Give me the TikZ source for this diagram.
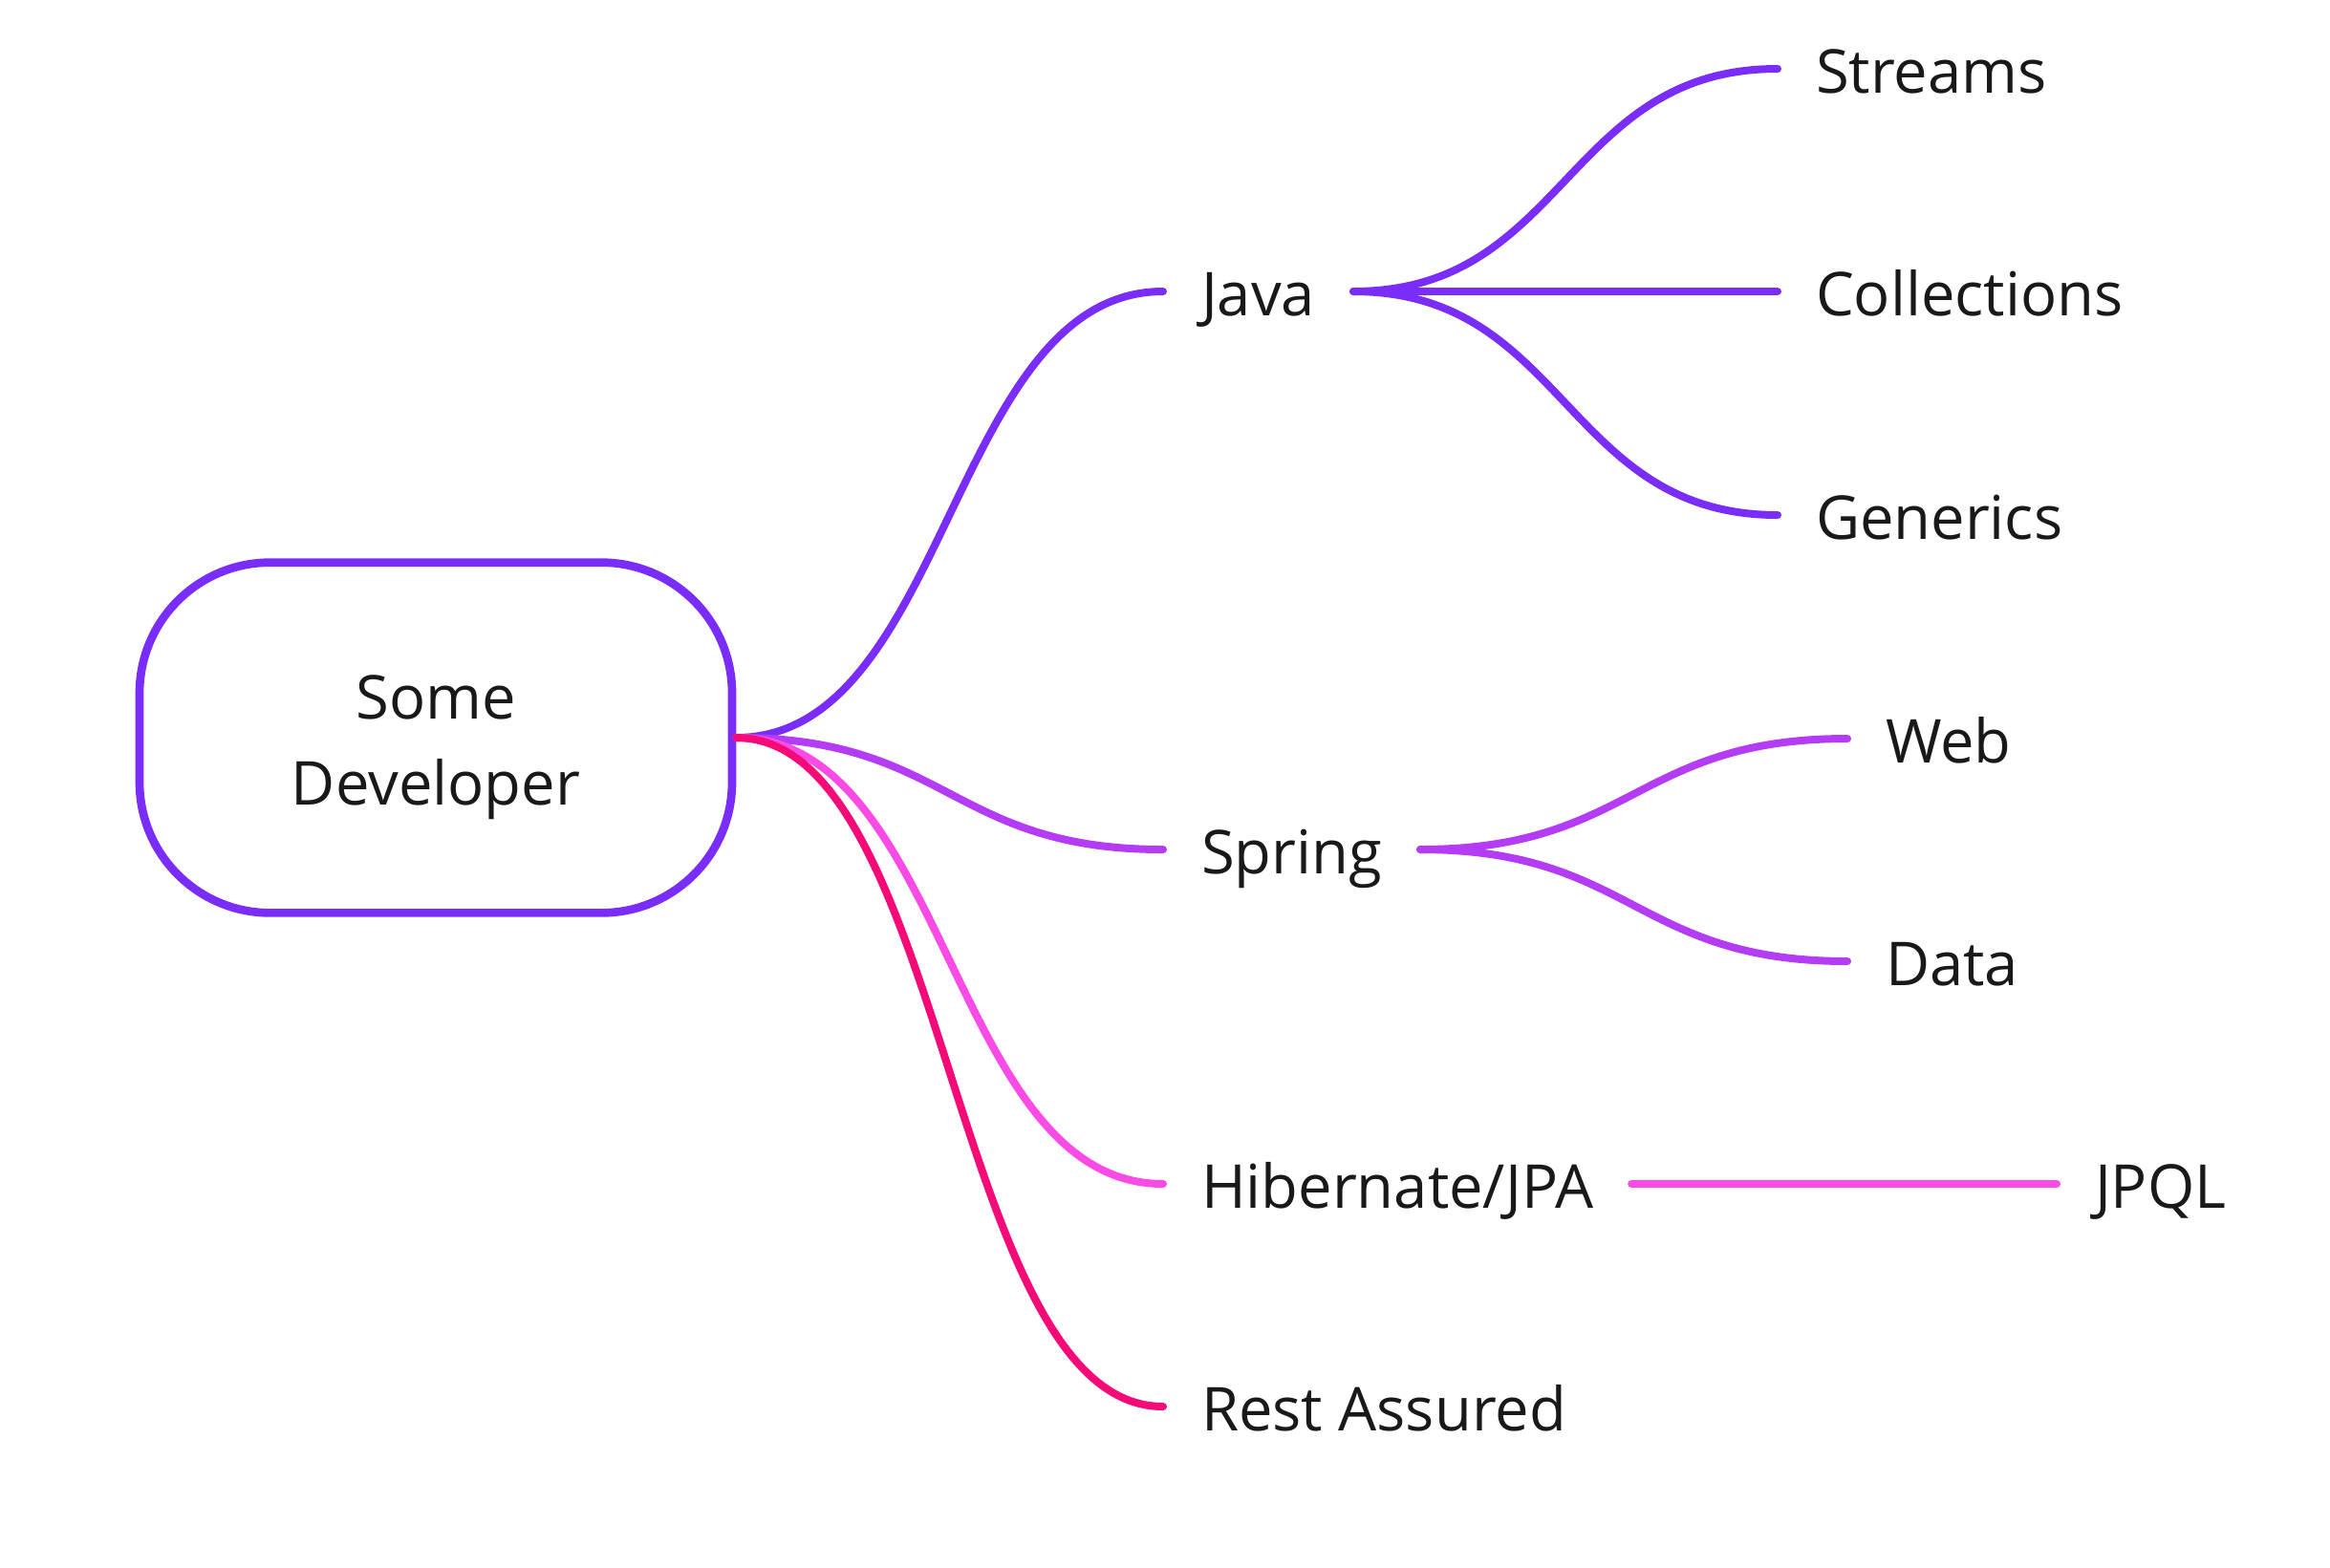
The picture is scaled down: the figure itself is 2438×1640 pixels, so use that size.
\documentclass[tikz,border=0pt]{standalone}
\usepackage{fontspec}
\setmainfont{Open Sans}
\usepackage{tikz}
\usetikzlibrary{positioning, shapes.misc}
\definecolor{javaPurple}{RGB}{122,44,248}
\definecolor{springViolet}{RGB}{180,60,245}
\definecolor{ormPink}{RGB}{250,75,230}
\definecolor{restRed}{RGB}{245,10,120}

\begin{document}
\begin{tikzpicture}[
    x=0.3pt, y=-0.3pt,
    font=\fontsize{19}{27}\selectfont,
    root/.style={draw=javaPurple, line width=2.6pt, rounded corners=41pt,
      minimum width=186pt, minimum height=110pt, align=center, text=black!90,
      text height=42pt, text depth=0pt},
    topic/.style={anchor=west, inner xsep=12pt, inner ysep=0pt, outer sep=0pt,
      text height=15pt, text depth=0pt, text=black!90},
    branch/.style={line width=2.4pt, line cap=round,
      to path={.. controls +(222,0) and +(-222,0) .. (\tikztotarget)}}
  ]
    \useasboundingbox (0,0) rectangle (2438,1640);

    \node[root] (dev) at (456,772) {Some\\Developer};

    \node[topic] (java) at (1217,305) {Java};
    \node[topic] (spring) at (1217,889) {Spring};
    \node[topic] (orm) at (1217,1239) {Hibernate/JPA};
    \node[topic] (rest) at (1217,1472) {Rest Assured};

    \node[topic] (streams) at (1860,72) {Streams};
    \node[topic] (coll) at (1860,305) {Collections};
    \node[topic] (gen) at (1860,539) {Generics};
    \node[topic] (web) at (1933,773) {Web};
    \node[topic] (data) at (1933,1006) {Data};
    \node[topic] (jpql) at (2152,1239) {JPQL};

    \draw[branch, draw=javaPurple] (dev.east) to (java.west);
    \draw[branch, draw=springViolet] (dev.east) to (spring.west);
    \draw[branch, draw=ormPink] (dev.east) to (orm.west);
    \draw[branch, draw=restRed] (dev.east) to (rest.west);

    \draw[branch, draw=javaPurple] (java.east) to (streams.west);
    \draw[branch, draw=javaPurple] (java.east) to (coll.west);
    \draw[branch, draw=javaPurple] (java.east) to (gen.west);
    \draw[branch, draw=springViolet] (spring.east) to (web.west);
    \draw[branch, draw=springViolet] (spring.east) to (data.west);
    \draw[branch, draw=ormPink] (orm.east) to (jpql.west);
  \end{tikzpicture}
\end{document}
